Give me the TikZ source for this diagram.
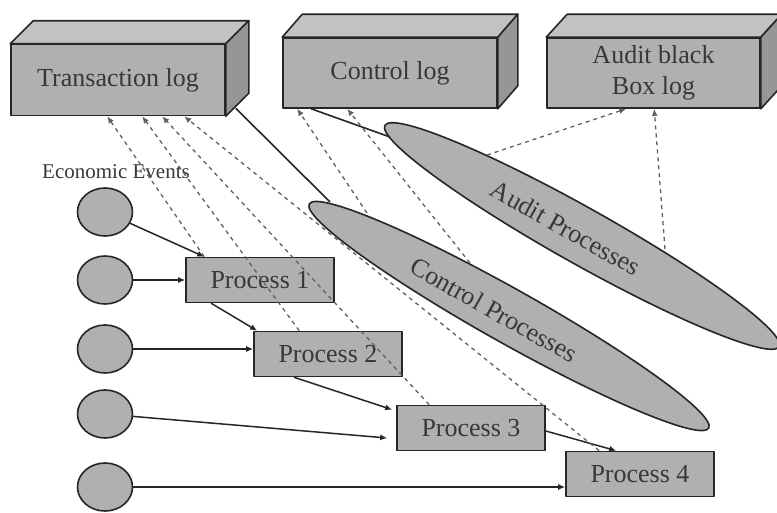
\documentclass[tikz,border=0pt]{standalone}
\usepackage{fontspec}
\setmainfont{Liberation Serif}
\usetikzlibrary{arrows.meta,shapes.geometric,calc}
\begin{document}
\begin{tikzpicture}[x=1pt,y=-1pt,
  face/.style={draw=black!85, line width=1.6pt, line join=round},
  logfront/.style={face, fill=gray!62, minimum width=214pt, minimum height=71pt, inner sep=0pt,
    font=\fontsize{26}{31}\selectfont, text=black!78, align=center},
  logtop/.style={face, fill=gray!48},
  logside/.style={face, fill=gray!82},
  procbox/.style={face, fill=gray!62, minimum width=148pt, minimum height=45pt, inner sep=0pt,
    font=\fontsize{26}{30}\selectfont, text=black!78},
  event/.style={ellipse, face, fill=gray!62, minimum width=55pt, minimum height=48pt, inner sep=0pt},
  procell/.style={ellipse, face, fill=gray!62, inner sep=0pt, rotate=-29.3},
  lbl/.style={font=\fontsize{26}{30}\selectfont, text=black!78, rotate=-29.3},
  flow/.style={draw=black!85, line width=1.5pt, -{Latex[length=7pt,width=6pt]}},
  link/.style={draw=black!85, line width=1.6pt},
  logflow/.style={draw=black!62, line width=1.3pt, dash pattern=on 4pt off 4pt, -{Latex[length=7pt,width=6pt]}}
]
\fill[white] (0,0) rectangle (777,512);
\useasboundingbox (0,0) rectangle (777,512);

% logs (cuboids)
\node[logfront] (tlog) at (118,80) {Transaction log};
\draw[logtop] (tlog.north west) -- ++(23,-23) -- ($(tlog.north east)+(23,-23)$) -- (tlog.north east) -- cycle;
\draw[logside] (tlog.north east) -- ++(23,-23) -- ($(tlog.south east)+(23,-23)$) -- (tlog.south east) -- cycle;

\node[logfront, minimum height=70pt] (clog) at (390,73) {Control log};
\draw[logtop] (clog.north west) -- ++(20,-23) -- ($(clog.north east)+(20,-23)$) -- (clog.north east) -- cycle;
\draw[logside] (clog.north east) -- ++(20,-23) -- ($(clog.south east)+(20,-23)$) -- (clog.south east) -- cycle;

\node[logfront, minimum width=213pt, minimum height=70pt] (alog) at (653.5,73) {Audit black\\Box log};
\draw[logtop] (alog.north west) -- ++(21,-23) -- ($(alog.north east)+(21,-23)$) -- (alog.north east) -- cycle;
\draw[logside] (alog.north east) -- ++(21,-23) -- ($(alog.south east)+(21,-23)$) -- (alog.south east) -- cycle;

% process ellipses
\node[procell, minimum width=452pt, minimum height=56pt] (audp) at (582,236) {};
\node[procell, minimum width=458pt, minimum height=54pt] (ctlp) at (509,316) {};
\node[lbl] (audl) at (566,228) {Audit Processes};
\node[lbl] (ctll) at (494,310) {Control Processes};

\coordinate (cpA) at (367,213);
\coordinate (cpB) at (470,263);
\coordinate (cpTip) at (330,202);
\coordinate (apA) at (487,155);
\coordinate (apB) at (665,249);
\coordinate (apTip) at (390,137);

% economic events
\node[font=\fontsize{21}{24}\selectfont, text=black!78] (ee) at (116,172) {Economic Events};
\node[event] (e1) at (105,212) {};
\node[event] (e2) at (105,280) {};
\node[event] (e3) at (105,349) {};
\node[event] (e4) at (105,414) {};
\node[event] (e5) at (105,487) {};

% processes
\node[procbox] (p1) at (260,280) {Process 1};
\node[procbox] (p2) at (328,354) {Process 2};
\node[procbox] (p3) at (471,428) {Process 3};
\node[procbox] (p4) at (640,474) {Process 4};

% event flows
\draw[flow] (e1) -- ([xshift=19pt]p1.north west);
\draw[flow] (e2) -- (p1.west);
\draw[flow] (e3) -- (e3 -| p2.west);
\draw[flow] (e4) -- ($(p3.west)+(-9,10)$);
\draw[flow] (e5) -- (e5 -| p4.west);

% process chain
\draw[flow] ([xshift=26pt]p1.south west) -- ([xshift=4pt]p2.north west);
\draw[flow] ([xshift=41pt]p2.south west) -- ($(p3.north west)+(-4,5)$);
\draw[flow] ($(p3.east)+(0,3)$) -- ([xshift=51pt]p4.north west);

% solid links
\draw[link] ($(tlog.south east)+(10,-8)$) -- (cpTip);
\draw[link] ([xshift=29pt]clog.south west) -- (apTip);

% dashed log writes
\draw[logflow] ([xshift=19pt]p1.north west) -- ([xshift=97pt]tlog.south west);
\draw[logflow] ([xshift=46pt]p2.north west) -- ([xshift=132pt]tlog.south west);
\draw[logflow] ([xshift=33pt]p3.north west) -- ([xshift=152pt]tlog.south west);
\draw[logflow] ([xshift=34pt]p4.north west) -- ([xshift=174pt]tlog.south west);
\draw[logflow] (cpA) -- ([xshift=15pt]clog.south west);
\draw[logflow] (cpB) -- ([xshift=65pt]clog.south west);
\draw[logflow] (apA) -- ([xshift=80pt]alog.south west);
\draw[logflow] (apB) -- ([xshift=108pt]alog.south west);
\end{tikzpicture}
\end{document}
